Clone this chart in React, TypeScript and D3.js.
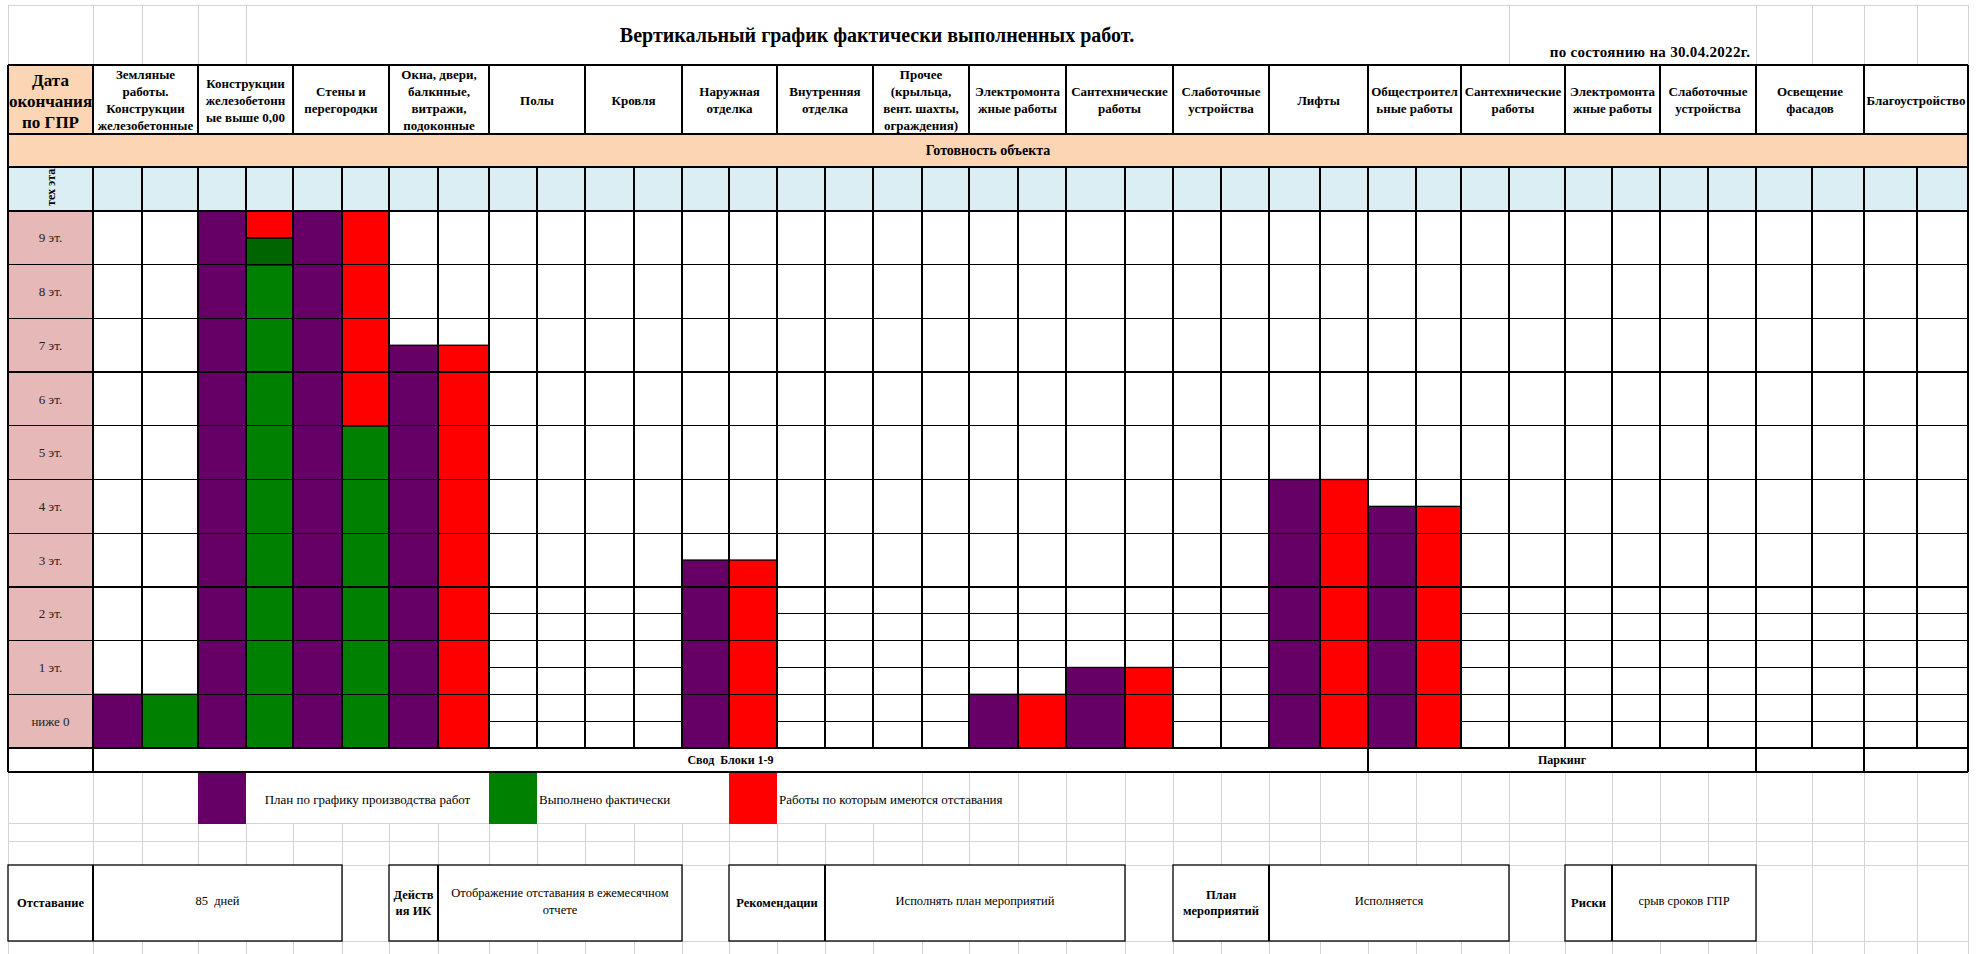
import React, { useEffect, useRef } from 'react';
import * as d3 from 'd3';

// floors, bottom to top
const floorLabels = ['ниже 0', '1 эт.', '2 эт.', '3 эт.', '4 эт.', '5 эт.', '6 эт.', '7 эт.', '8 эт.', '9 эт.'];

// work categories (header lines split by \n)
const workHeaders = [
  'Земляные\nработы.\nКонструкции\nжелезобетонные',
  'Конструкции\nжелезобетонн\nые выше 0,00',
  'Стены и\nперегородки',
  'Окна, двери,\nбалкнные,\nвитражи,\nподоконные',
  'Полы',
  'Кровля',
  'Наружная\nотделка',
  'Внутренняя\nотделка',
  'Прочее\n(крыльца,\nвент. шахты,\nограждения)',
  'Электромонта\nжные работы',
  'Сантехнические\nработы',
  'Слаботочные\nустройства',
  'Лифты',
  'Общестроител\nьные работы',
  'Сантехнические\nработы',
  'Электромонта\nжные работы',
  'Слаботочные\nустройства',
  'Освещение\nфасадов',
  'Благоустройство',
];

// values in floors (1 = one floor row)
const planFloors = [1, 10, 10, 7.5, 0, 0, 3.5, 0, 0, 1, 1.5, 0, 5, 4.5, 0, 0, 0, 0, 0];
const doneFloors = [1, 9, 6, 0, 0, 0, 0, 0, 0, 0, 0, 0, 0, 0, 0, 0, 0, 0, 0];
const partialFloors = [0, 0.5, 0, 0, 0, 0, 0, 0, 0, 0, 0, 0, 0, 0, 0, 0, 0, 0, 0];

const titleText = 'Вертикальный график фактически выполненных работ.';
const dateText = 'по состоянию на 30.04.2022г.';
const dateHeader = 'Дата\nокончания\nпо ГПР';
const readyText = 'Готовность объекта';
const techFloorText = 'тех этаж';
const svodLabels = ['', 'Свод  Блоки 1-9', 'Паркинг', '', ''];
const legendLabels = ['План по графику производства работ', 'Выполнено фактически', 'Работы по которым имеются отставания'];
const summaryLabels = ['Отставание', 'Действ\nия ИК', 'Рекомендации', 'План\nмероприятий', 'Риски'];
const summaryValues = ['85  дней', 'Отображение отставания в ежемесячном\nотчете', 'Исполнять план мероприятий', 'Исполняется', 'срыв сроков ГПР'];

// layout (spreadsheet column edges and row heights)
const W = 1982;
const H = 954;
const colEdges = [8, 93, 142, 198, 246, 293, 342, 389, 438, 489, 537, 585, 634, 682, 729, 777, 825, 873, 922, 969,
  1018, 1066, 1125, 1173, 1221, 1269, 1320, 1368, 1416, 1461, 1509, 1565, 1612, 1660, 1708, 1756, 1812, 1864, 1917, 1968];
const Y = { top: 5, head: 65, headBot: 134, readyBot: 167, blueBot: 211, floorsBot: 748, svodBot: 772, legendBot: 823, gap: 841, boxTop: 865, boxBot: 941 };
const svodSpans = [[0, 1], [1, 27], [27, 35], [35, 37], [37, 39]];
const legendSwatch = [[3, 4], [9, 10], [14, 15]];
const summaryCells = [[0, 1, 6], [7, 8, 13], [14, 16, 22], [23, 25, 30], [31, 32, 35]];

const COLORS = { plan: '#660066', done: '#008000', partial: '#006400', lag: '#ff0000', peach: '#fcd5b4', blue: '#daeef3', pink: '#e6b8b7', grid: '#d4d4d4' };
const FONT = "'Liberation Serif', 'Times New Roman', serif";

// keep double spaces visible in svg text
const keepSpaces = (s: string) => s.replace(/ {2}/g, ' \u00a0');

export default function App() {
  const svgRef = useRef<SVGSVGElement>(null);

  useEffect(() => {
    if (!svgRef.current) return;
    const svg = d3.select(svgRef.current);
    svg.selectAll('*').remove();
    svg.attr('width', W).attr('height', H).style('font-family', FONT);

    const x = (i: number) => colEdges[i];
    const left = colEdges[0];
    const right = colEdges[colEdges.length - 1];
    const y = d3.scaleLinear().domain([0, floorLabels.length]).range([Y.floorsBot, Y.blueBot]);

    const line = (g: any, x1: number, y1: number, x2: number, y2: number, color = '#000', w = 1.3) =>
      g.append('line').attr('x1', x1).attr('y1', y1).attr('x2', x2).attr('y2', y2)
        .attr('stroke', color).attr('stroke-width', w).attr('shape-rendering', 'crispEdges');

    const multiText = (g: any, cx: number, cy: number, txt: string, size: number, bold: boolean, lh: number, anchor = 'middle') => {
      const lines = txt.split('\n');
      const t = g.append('text').attr('font-size', size).attr('font-weight', bold ? 'bold' : 'normal')
        .attr('text-anchor', anchor).attr('fill', '#000');
      lines.forEach((l, i) => {
        t.append('tspan').attr('x', cx).attr('y', cy + (i - (lines.length - 1) / 2) * lh).attr('dy', '0.35em').text(keepSpaces(l));
      });
      return t;
    };

    svg.append('rect').attr('width', W).attr('height', H).attr('fill', '#fff');

    // background spreadsheet gridlines
    const bg = svg.append('g');
    line(bg, left, Y.top, right, Y.top, COLORS.grid, 1);
    [0, 1, 2, 3, 4, 30, 35, 36, 37, 38, 39].forEach(i => line(bg, x(i), Y.top, x(i), Y.head, COLORS.grid, 1));
    colEdges.forEach(e => line(bg, e, Y.svodBot, e, H, COLORS.grid, 1));
    [Y.legendBot, Y.gap, Y.boxTop, Y.boxBot].forEach(v => line(bg, left, v, right, v, COLORS.grid, 1));

    // title
    svg.append('text').attr('x', 877).attr('y', 37).attr('text-anchor', 'middle').attr('dominant-baseline', 'middle')
      .attr('font-size', 20).attr('font-weight', 'bold').text(titleText);
    svg.append('text').attr('x', 1650).attr('y', 57).attr('text-anchor', 'middle')
      .attr('font-size', 15).attr('font-weight', 'bold').attr('letter-spacing', 0.3).text(dateText);

    // header row
    const head = svg.append('g');
    head.append('rect').attr('x', left).attr('y', Y.head).attr('width', x(1) - left).attr('height', Y.headBot - Y.head).attr('fill', COLORS.peach);
    multiText(head, (left + x(1)) / 2, 101, dateHeader, 17, true, 21);
    workHeaders.forEach((h, i) => {
      const x0 = x(1 + 2 * i);
      const x1 = x(3 + 2 * i);
      multiText(head, (x0 + x1) / 2, 100, h, 13, true, 17);
    });

    // readiness row
    svg.append('rect').attr('x', left).attr('y', Y.headBot).attr('width', right - left).attr('height', Y.readyBot - Y.headBot).attr('fill', COLORS.peach);
    svg.append('text').attr('x', (left + right) / 2).attr('y', (Y.headBot + Y.readyBot) / 2).attr('dy', '0.35em')
      .attr('text-anchor', 'middle').attr('font-size', 14).attr('font-weight', 'bold').text(readyText);

    // tech floor row
    svg.append('rect').attr('x', left).attr('y', Y.readyBot).attr('width', right - left).attr('height', Y.blueBot - Y.readyBot).attr('fill', COLORS.blue);
    svg.append('clipPath').attr('id', 'techClip').append('rect')
      .attr('x', left).attr('y', Y.readyBot + 1).attr('width', x(1) - left).attr('height', Y.blueBot - Y.readyBot - 1);
    svg.append('g').attr('clip-path', 'url(#techClip)')
      .append('text').attr('transform', `translate(${(left + x(1)) / 2 + 4},${Y.blueBot - 5}) rotate(-90)`)
      .attr('font-size', 12).attr('font-weight', 'bold').text(techFloorText);

    // floor labels column
    const fl = svg.append('g');
    floorLabels.forEach((lab, i) => {
      fl.append('rect').attr('x', left).attr('y', y(i + 1)).attr('width', x(1) - left).attr('height', y(i) - y(i + 1)).attr('fill', COLORS.pink);
      fl.append('text').attr('x', (left + x(1)) / 2).attr('y', (y(i) + y(i + 1)) / 2).attr('dy', '0.35em')
        .attr('text-anchor', 'middle').attr('font-size', 13).attr('fill', '#222').text(lab);
    });

    // half-floor lines in the lower floors
    const half = svg.append('g');
    workHeaders.forEach((_, i) => {
      if (i < 4) return;
      [0, 1, 2].forEach(f => line(half, x(1 + 2 * i), y(f + 0.5), x(3 + 2 * i), y(f + 0.5)));
    });

    // bars
    const bars = svg.append('g');
    const bar = (x0: number, x1: number, v0: number, v1: number, color: string) => {
      if (v1 <= v0) return;
      bars.append('rect').attr('x', x0).attr('y', y(v1)).attr('width', x1 - x0).attr('height', y(v0) - y(v1))
        .attr('fill', color).attr('stroke', '#000').attr('stroke-width', 1.3);
    };
    planFloors.forEach((p, i) => {
      const a = x(1 + 2 * i);
      const m = x(2 + 2 * i);
      const b = x(3 + 2 * i);
      bar(a, m, 0, p, COLORS.plan);
      const d = doneFloors[i];
      const pd = d + partialFloors[i];
      bar(m, b, 0, d, COLORS.done);
      bar(m, b, d, pd, COLORS.partial);
      bar(m, b, pd, p, COLORS.lag);
    });

    // table grid
    const grid = svg.append('g');
    [Y.head, Y.headBot, Y.readyBot].forEach(v => line(grid, left, v, right, v, '#000', 1.6));
    d3.range(floorLabels.length + 1).forEach(f => line(grid, left, y(f), right, y(f)));
    colEdges.forEach(e => line(grid, e, Y.readyBot, e, Y.floorsBot));
    line(grid, left, Y.head, left, Y.floorsBot);
    line(grid, right, Y.head, right, Y.floorsBot);
    [0, 1].concat(workHeaders.map((_, i) => 3 + 2 * i)).forEach(i => line(grid, x(i), Y.head, x(i), Y.headBot));

    // summary row
    const svod = svg.append('g');
    line(svod, left, Y.svodBot, right, Y.svodBot);
    svodSpans.forEach(([a, b], i) => {
      line(svod, x(a), Y.floorsBot, x(a), Y.svodBot);
      line(svod, x(b), Y.floorsBot, x(b), Y.svodBot);
      if (svodLabels[i]) {
        svod.append('text').attr('x', (x(a) + x(b)) / 2).attr('y', (Y.floorsBot + Y.svodBot) / 2).attr('dy', '0.35em')
          .attr('text-anchor', 'middle').attr('font-size', 12).attr('font-weight', 'bold').text(keepSpaces(svodLabels[i]));
      }
    });

    // legend
    const lg = svg.append('g');
    const legendColors = [COLORS.plan, COLORS.done, COLORS.lag];
    lg.append('rect').attr('x', x(4)).attr('y', Y.svodBot + 1).attr('width', x(9) - x(4)).attr('height', Y.legendBot - Y.svodBot - 1).attr('fill', '#fff');
    lg.append('rect').attr('x', x(10)).attr('y', Y.svodBot + 1).attr('width', x(14) - x(10)).attr('height', Y.legendBot - Y.svodBot - 1).attr('fill', '#fff');
    lg.append('rect').attr('x', x(15)).attr('y', Y.svodBot + 1).attr('width', x(18) - x(15)).attr('height', Y.legendBot - Y.svodBot - 1).attr('fill', '#fff');
    legendSwatch.forEach(([a, b], i) => {
      lg.append('rect').attr('x', x(a)).attr('y', Y.svodBot + 1).attr('width', x(b) - x(a)).attr('height', Y.legendBot - Y.svodBot)
        .attr('fill', legendColors[i]);
    });
    const ly = (Y.svodBot + Y.legendBot) / 2 + 2;
    lg.append('text').attr('x', (x(4) + x(9)) / 2).attr('y', ly).attr('dy', '0.35em').attr('text-anchor', 'middle')
      .attr('font-size', 13).text(legendLabels[0]);
    lg.append('text').attr('x', x(10) + 2).attr('y', ly).attr('dy', '0.35em').attr('font-size', 13).text(legendLabels[1]);
    lg.append('text').attr('x', x(15) + 2).attr('y', ly).attr('dy', '0.35em').attr('font-size', 13).text(legendLabels[2]);

    // bottom summary boxes
    const sb = svg.append('g');
    const by = (Y.boxTop + Y.boxBot) / 2;
    summaryCells.forEach(([a, m, b], i) => {
      sb.append('rect').attr('x', x(a)).attr('y', Y.boxTop).attr('width', x(b) - x(a)).attr('height', Y.boxBot - Y.boxTop)
        .attr('fill', '#fff').attr('stroke', '#000').attr('stroke-width', 1.3);
      line(sb, x(m), Y.boxTop, x(m), Y.boxBot);
      multiText(sb, (x(a) + x(m)) / 2, by, summaryLabels[i], 12.5, true, 16);
      multiText(sb, (x(m) + x(b)) / 2, by - 2, summaryValues[i], 12.5, false, 17);
    });
  }, []);

  return (
    <svg ref={svgRef} style={{ position: 'absolute', left: 0, top: 0 }} />
  );
}
